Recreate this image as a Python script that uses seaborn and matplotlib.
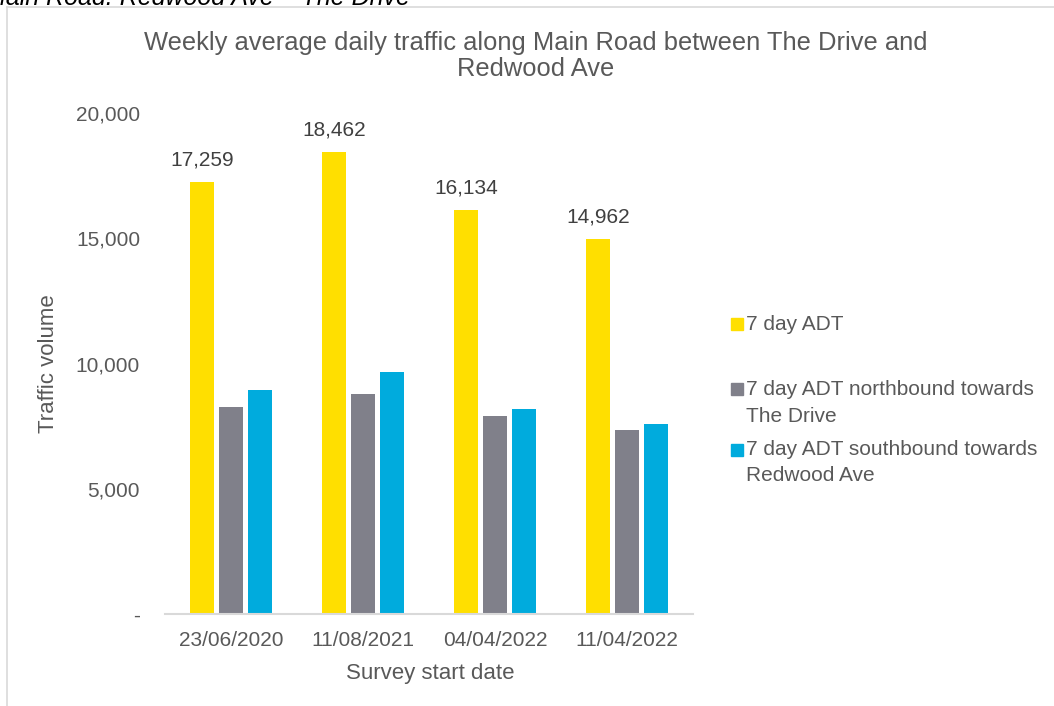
import seaborn as sns
import pandas as pd
import matplotlib.pyplot as plt
from matplotlib.lines import Line2D
from matplotlib.patches import Rectangle
from matplotlib.ticker import FuncFormatter

dates = ["23/06/2020", "11/08/2021", "04/04/2022", "11/04/2022"]
series = ["7 day ADT", "7 day ADT northbound towards\nThe Drive",
          "7 day ADT southbound towards\nRedwood Ave"]
adt_total = [17259, 18462, 16134, 14962]
adt_north = [8280, 8780, 7900, 7350]
adt_south = [8940, 9670, 8170, 7600]
cols = ["#FFDF00", "#80808A", "#00ABDD"]

df = pd.DataFrame({
    "date": dates * 3,
    "series": [series[0]] * 4 + [series[1]] * 4 + [series[2]] * 4,
    "volume": adt_total + adt_north + adt_south,
})

plt.rcParams['font.family'] = ['Liberation Sans', 'DejaVu Sans']
fig = plt.figure(figsize=(10.54, 7.06), dpi=100)
ax = fig.add_axes([165 / 1054, 1 - 614 / 706, 528 / 1054, 501 / 706])

sns.barplot(data=df, x="date", y="volume", hue="series", order=dates,
            hue_order=series, palette=cols, width=0.66, gap=0.2,
            saturation=1, ax=ax, legend=False)

ax.bar_label(ax.containers[0], labels=[f"{v:,}" for v in adt_total],
             padding=9, fontsize=15, color="#404040")

ax.set_ylim(0, 20000)
ax.set_yticks([0, 5000, 10000, 15000, 20000])
ax.yaxis.set_major_formatter(FuncFormatter(lambda v, p: "-" if v == 0 else f"{int(v):,}"))
ax.tick_params(axis="y", length=0, pad=18, labelsize=15, labelcolor="#595959")
ax.tick_params(axis="x", length=0, pad=12, labelsize=15, labelcolor="#595959")
for s in ["top", "right", "left"]:
    ax.spines[s].set_visible(False)
ax.spines["bottom"].set_color("#D9D9D9")
ax.spines["bottom"].set_linewidth(1.5)
ax.set_ylabel("")
ax.set_xlabel("")

fig.text(430 / 1054, 1 - 673 / 706, "Survey start date", ha="center", va="center",
         fontsize=16, color="#595959")
fig.text(48 / 1054, 1 - 364 / 706, "Traffic volume", rotation=90, ha="center",
         va="center", fontsize=16, color="#595959")

fig.text(536 / 1054, 1 - 56 / 706,
         "Weekly average daily traffic along Main Road between The Drive and\nRedwood Ave",
         ha="center", va="center", fontsize=18.4, color="#595959", linespacing=1.1)

# legend
text_y = [324, 403, 462.5]
box_y = [324, 389, 450]
for c, lab, ty, by in zip(cols, series, text_y, box_y):
    fig.add_artist(Rectangle((731 / 1054, 1 - (by + 6) / 706), 12 / 1054, 12 / 706,
                             transform=fig.transFigure, color=c))
    fig.text(746 / 1054, 1 - ty / 706, lab, ha="left", va="center", fontsize=15,
             color="#595959", linespacing=1.5)

# chart area border + cut header text
fig.add_artist(Line2D([7 / 1054, 1], [1 - 7 / 706, 1 - 7 / 706], color="#D9D9D9",
                      lw=1.2, transform=fig.transFigure))
fig.add_artist(Line2D([7 / 1054, 7 / 1054], [0, 1 - 7 / 706], color="#D9D9D9",
                      lw=1.2, transform=fig.transFigure))
fig.text(410 / 1054, 1 - 5 / 706, "Main Road: Redwood Ave \u2013 The Drive",
         ha="right", va="baseline", fontsize=18, style="italic", color="black")

fig.savefig("out.png", dpi=100)
